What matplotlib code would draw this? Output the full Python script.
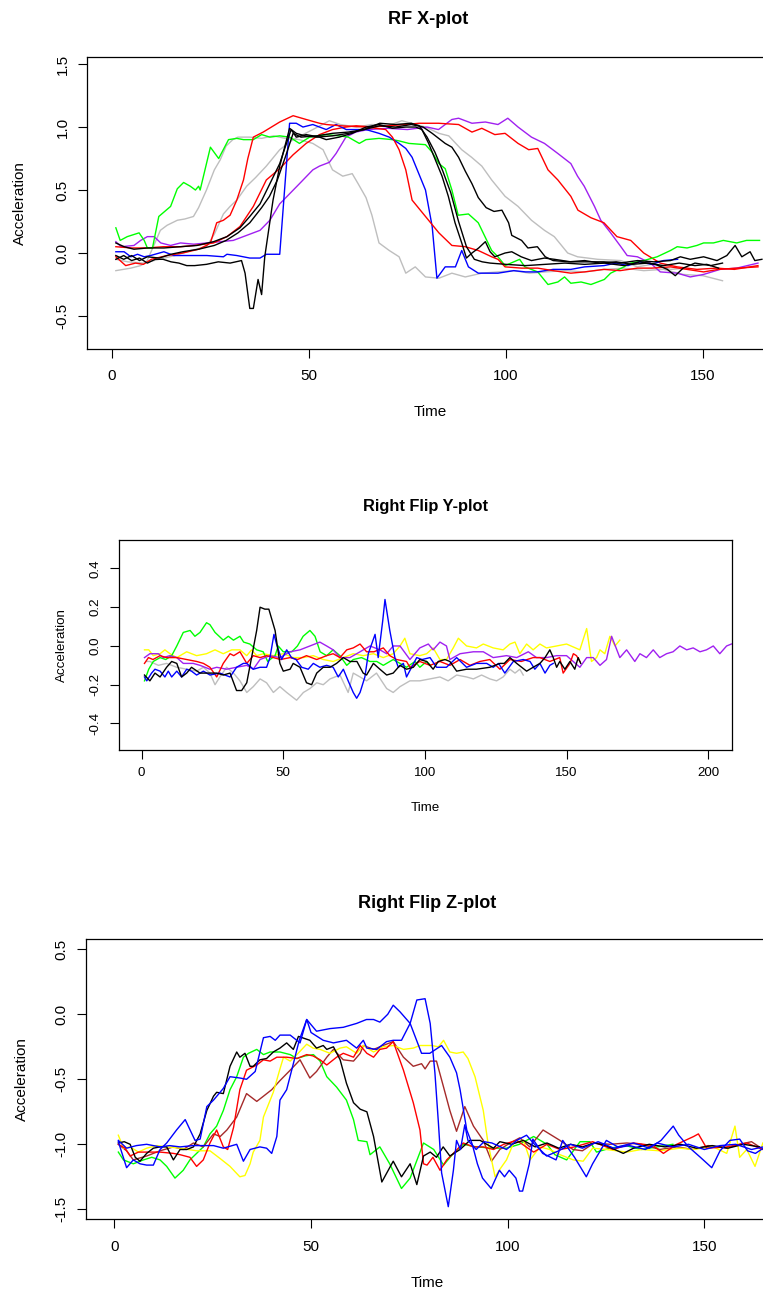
import numpy as np
import matplotlib
matplotlib.use("Agg")
import matplotlib.pyplot as plt

plt.rcParams['font.family'] = ['Liberation Sans', 'DejaVu Sans']

# ---------------- RF X-plot (time, acceleration) ----------------
x_green = [(1,0.2),(2.1,0.1),(3.9,0.13),(6.9,0.16),(8.2,0.1),(9,0.04),(10.3,0.04),(11.9,0.29),(14.9,0.37),(16.6,0.51),(18.2,0.56),(19.9,0.53),(21.2,0.5),(22,0.53),(22.4,0.5),(25,0.84),(27.1,0.75),(29.6,0.9),(31.7,0.91),(33.4,0.9),(35.9,0.9),(38,0.94),(40.1,0.92),(42.6,0.93),(45.1,0.92),(47.6,0.87),(50.2,0.92),(54.4,0.94),(57.7,0.93),(60,0.92),(62.8,0.87),(64.5,0.9),(67.8,0.91),(71.2,0.9),(72.9,0.89),(75.4,0.87),(79.6,0.86),(81.3,0.8),(83,0.71),(84.6,0.67),(86.3,0.5),(87.9,0.3),(90.5,0.31),(93,0.24),(96.4,0.02),(98,-0.03),(99.8,-0.1),(103.5,-0.05),(104.8,-0.11),(108.1,-0.15),(110.7,-0.25),(113.2,-0.23),(114.9,-0.19),(116.5,-0.24),(119.1,-0.23),(121.6,-0.25),(125,-0.21),(126.6,-0.16),(130,-0.11),(131.7,-0.08),(135,-0.06),(138.4,-0.03),(141.8,0.02),(143.5,0.05),(146,0.04),(148.5,0.06),(150.2,0.08),(152.7,0.08),(155.2,0.1),(158.6,0.08),(161.1,0.1),(164.4,0.1)]
x_grey_a = [(1,-0.14),(4.8,-0.12),(7.3,-0.1),(8.8,-0.07),(10.5,0.05),(12.3,0.18),(14,0.22),(16.6,0.26),(18.5,0.27),(20.7,0.29),(22,0.36),(24,0.5),(26,0.66),(27.5,0.74),(29,0.85),(30.7,0.9),(32,0.92),(35,0.92),(38,0.91),(41,0.93),(44,0.91),(47.6,0.9),(51,0.87),(53.6,0.82),(56,0.66),(58.6,0.61),(61,0.63),(62.5,0.55),(64.5,0.44),(66,0.3),(67.8,0.08),(70.4,0.02),(72.9,-0.03),(74.6,-0.16),(77,-0.11),(79.6,-0.19),(83,-0.2),(86.3,-0.16),(89.7,-0.19),(93.9,-0.16),(98,-0.15),(102,-0.14),(106,-0.16),(110,-0.15),(115,-0.14),(120,-0.15),(125,-0.13),(130,-0.12),(135,-0.14),(140,-0.13),(145,-0.17),(150,-0.18),(155,-0.22)]
x_grey_b = [(1,-0.05),(4,-0.07),(8,-0.08),(12,-0.05),(16,-0.02),(20,0.02),(24,0.05),(26,0.15),(28.3,0.31),(30,0.37),(31.7,0.42),(34.2,0.53),(36.5,0.6),(39.2,0.69),(42.6,0.82),(46,0.9),(51,0.98),(55.2,1.05),(58,1.02),(62,1.0),(66,1.02),(70,1.01),(73.6,1.05),(76,1.03),(79.6,1.0),(83,0.95),(85.5,0.93),(88.8,0.82),(91.3,0.76),(93.9,0.69),(96.4,0.58),(99.8,0.45),(103.1,0.37),(106.5,0.26),(109.8,0.18),(112.3,0.13),(115.7,0.0),(118.2,-0.03),(123.3,-0.05),(129.2,-0.06),(133.4,-0.11),(137,-0.09),(141.8,-0.13),(146,-0.12)]
x_red_a = [(1,-0.03),(3.5,-0.1),(6,-0.08),(8,-0.09),(10,-0.05),(14,-0.02),(18,0.0),(22,0.03),(24,0.06),(25,0.08),(26.6,0.24),(28.3,0.26),(30,0.3),(31.7,0.42),(33.4,0.58),(34.5,0.75),(35.9,0.92),(38.4,0.96),(40.5,1.0),(42.6,1.04),(46,1.09),(49.3,1.06),(52.7,1.03),(54.4,1.02),(58,1.01),(64.5,1.0),(69.5,0.98),(71.2,0.92),(72.9,0.82),(74.6,0.66),(76.2,0.42),(79.6,0.29),(83,0.16),(86.3,0.06),(89.7,0.05),(93,0.02),(96.4,-0.03),(98,-0.05),(99.8,-0.11),(104,-0.12),(108.1,-0.12),(112,-0.14),(116.5,-0.16),(120,-0.15),(124.9,-0.13),(129,-0.14),(133.4,-0.12),(137,-0.12),(141.8,-0.11),(146,-0.13),(150.2,-0.15),(154,-0.13),(158.6,-0.12),(164,-0.11)]
x_red_b = [(1,0.05),(5,0.04),(9,0.04),(13,0.05),(17.4,0.05),(21,0.06),(25.8,0.08),(29.2,0.13),(32.5,0.21),(35.9,0.37),(39.2,0.58),(42.6,0.67),(46,0.78),(49.3,0.87),(52.7,0.94),(56,0.98),(59.4,1.0),(62,1.01),(66.1,1.0),(70,1.01),(74.5,1.02),(78,1.03),(82.9,1.03),(88,1.02),(91.4,0.96),(93.9,0.99),(97.2,0.94),(99.8,0.95),(103.1,0.87),(105.8,0.82),(108.1,0.83),(110.7,0.66),(113.2,0.58),(116.5,0.45),(118.3,0.34),(121.6,0.28),(124.9,0.24),(128.2,0.13),(131.7,0.1),(135,0.0),(139.2,-0.08),(143.5,-0.11),(148.5,-0.13),(153.5,-0.12),(158,-0.13),(164,-0.1)]
x_blue = [(1,0.01),(3.1,0.01),(4.8,-0.03),(6.5,-0.01),(8.2,-0.03),(9.8,-0.02),(13.2,0.01),(15.7,-0.02),(19.9,-0.02),(24.1,-0.02),(28.3,-0.03),(29.2,-0.01),(31.7,-0.02),(35,-0.04),(37.6,-0.04),(39.2,-0.01),(42.6,-0.01),(45.1,1.03),(46.8,1.03),(48.5,1.0),(51,1.02),(54.4,0.98),(56.9,1.02),(59.5,0.98),(64.5,0.98),(67.8,0.95),(70.4,0.92),(72.9,0.87),(74.6,0.83),(76.2,0.76),(77.9,0.63),(79.6,0.5),(81.3,0.21),(82.5,-0.2),(84.6,-0.11),(87.2,-0.11),(88.8,0.02),(90.5,-0.11),(93,-0.16),(98,-0.16),(102,-0.14),(105,-0.15),(108,-0.15),(112,-0.13),(116.5,-0.13),(120,-0.11),(124.9,-0.1),(128,-0.08),(131,-0.1),(134,-0.07),(137,-0.09),(140,-0.06),(143.6,-0.05)]
x_black_a = [(1,-0.05),(3,-0.02),(5,-0.06),(7,-0.04),(9,-0.08),(11,-0.05),(13,-0.05),(15,-0.07),(17,-0.08),(19,-0.1),(21,-0.1),(24,-0.09),(27,-0.07),(30,-0.08),(32.9,-0.06),(33.8,-0.16),(35,-0.44),(35.9,-0.44),(37.1,-0.21),(38,-0.33),(38.8,-0.03),(40.9,0.42),(42.6,0.69),(45.1,0.99),(46.8,0.95),(49,0.93),(52,0.92),(56,0.93),(60,0.95),(64,0.98),(68,1.03),(72,1.02),(76,1.03),(78,1.01),(80,0.92),(82,0.8),(84,0.65),(86,0.48),(88,0.25),(90,0.05),(92,-0.05),(94,-0.07),(96,-0.08),(100,-0.09),(105,-0.1),(110,-0.09),(115,-0.08),(120,-0.09),(125,-0.08),(130,-0.1),(134,-0.07),(138,-0.09),(141,-0.13),(143,-0.18),(145,-0.12),(148,-0.08),(152,-0.1),(155,-0.08)]
x_black_b = [(1,0.08),(3.1,0.05),(5.6,0.03),(9,0.04),(13.2,0.04),(17.4,0.05),(21.6,0.06),(25.8,0.09),(29.2,0.13),(32.5,0.2),(35,0.29),(37.6,0.39),(40.1,0.55),(42.6,0.71),(44.3,0.87),(45.5,0.98),(46.8,0.92),(49.3,0.94),(52.7,0.92),(54.4,0.9),(57.7,0.92),(61,0.95),(64.5,1.0),(67.8,1.02),(71.2,0.99),(74.6,1.0),(77.1,1.0),(78.7,0.98),(80.4,0.87),(82.1,0.74),(83.8,0.61),(85.4,0.45),(87.1,0.24),(88.8,0.08),(90,-0.04),(91.4,0.0),(93.1,0.04),(94.8,0.09),(96,0.01),(97.2,-0.03),(99.8,0.0),(101.5,0.01),(103.9,-0.03),(106.5,-0.06),(109.8,-0.04),(112.3,-0.05),(116.5,-0.07),(120.8,-0.07),(124.9,-0.07),(129,-0.08),(133.4,-0.06),(137.6,-0.07),(141.8,-0.06),(144.3,-0.03),(146.8,-0.05),(150.2,-0.03),(153.6,-0.06),(156.1,-0.02),(158.2,0.06),(159.9,-0.03),(162,0.01),(163.2,-0.06),(165,-0.05)]
x_black_c = [(1,-0.02),(3,-0.05),(5,-0.02),(7,-0.06),(9,-0.03),(12,-0.04),(15,-0.01),(18,0.01),(22,0.03),(26,0.06),(29,0.1),(32,0.16),(35,0.24),(38,0.36),(40,0.45),(42,0.58),(44,0.76),(46,0.95),(48,0.92),(52,0.93),(56,0.95),(60,0.96),(64,0.98),(68,1.01),(72,1.0),(76,1.02),(79,1.0),(81.3,0.95),(84.6,0.87),(86.3,0.84),(88,0.76),(89.7,0.65),(91.4,0.55),(93,0.44),(95,0.36),(97,0.33),(99,0.34),(100.7,0.24),(101.5,0.14),(104,0.1),(105.6,0.04),(108,0.05),(110,-0.03),(112,-0.06),(116,-0.07),(120,-0.06),(124,-0.08),(128,-0.07),(132,-0.09),(136,-0.08),(140,-0.1),(144,-0.08),(148,-0.1),(151,-0.09),(154,-0.12)]
x_purple = [(1,0.09),(2.3,0.05),(5.6,0.06),(7.3,0.1),(9,0.13),(10.7,0.13),(12.4,0.08),(14.9,0.06),(17.4,0.08),(20.8,0.07),(24.1,0.08),(27.5,0.09),(30.8,0.1),(34.2,0.14),(37.6,0.18),(40.1,0.26),(42.6,0.39),(45.1,0.47),(47.6,0.55),(51,0.66),(52.7,0.69),(55.2,0.72),(56.9,0.79),(59.4,0.92),(61.9,0.96),(65,0.98),(70,0.99),(75,0.98),(80,1.0),(82.9,0.98),(86.3,1.06),(88,1.07),(91.4,1.03),(94.8,1.04),(98,1.02),(100.5,1.07),(103.1,1.0),(106.5,0.92),(109.8,0.87),(113.2,0.79),(116.5,0.71),(118.2,0.61),(119.9,0.53),(122.5,0.37),(124.1,0.26),(126.6,0.16),(129.2,0.05),(130.8,-0.02),(133.4,-0.03),(136.7,-0.08),(139.2,-0.15),(143.5,-0.16),(146.8,-0.19),(150.2,-0.17),(154.4,-0.13),(158.6,-0.12),(164,-0.08)]

# ---------------- Right Flip Y-plot ----------------
y_grey = [(1.8,-0.08),(2.9,-0.08),(5.9,-0.1),(8.8,-0.09),(12.4,-0.11),(15.9,-0.12),(19.4,-0.13),(21.8,-0.11),(24.1,-0.14),(25.9,-0.2),(27.6,-0.16),(30,-0.11),(32.4,-0.14),(34.7,-0.18),(37.1,-0.24),(39.4,-0.21),(41.8,-0.17),(44.1,-0.19),(46.5,-0.24),(48.8,-0.21),(51.2,-0.24),(54.7,-0.28),(57.1,-0.24),(59.4,-0.22),(61.8,-0.19),(64.1,-0.2),(66.5,-0.17),(70,-0.15),(72.9,-0.24),(74.7,-0.14),(77.1,-0.16),(79.4,-0.18),(82.9,-0.14),(86.5,-0.22),(88.8,-0.24),(91.2,-0.21),(94.7,-0.18),(98.2,-0.18),(101.8,-0.17),(105.3,-0.16),(108.2,-0.18),(111.2,-0.15),(114.7,-0.16),(117.1,-0.17),(120,-0.15),(122.9,-0.17),(125.3,-0.18),(127.6,-0.16),(130,-0.12),(131.8,-0.14),(133.5,-0.12),(134.7,-0.15)]
y_green = [(1,-0.18),(2.5,-0.12),(4.1,-0.08),(6.5,-0.06),(8.5,-0.07),(10.6,-0.05),(12.4,0.0),(14.7,0.07),(17.1,0.08),(18.8,0.05),(20.6,0.07),(22.9,0.12),(24.1,0.11),(25.9,0.07),(28.8,0.03),(30.6,0.05),(32.4,0.03),(34.7,0.05),(36,0.02),(38.2,0.01),(40.6,-0.02),(42.9,-0.03),(44.5,-0.08),(47.1,-0.05),(48.2,0.0),(50,-0.03),(53,-0.03),(55,0.0),(57,0.05),(59.4,0.08),(61.2,0.05),(63,-0.03),(65.3,-0.05),(67.6,-0.02),(70,-0.05),(72.4,-0.1),(74.7,-0.07),(77.6,-0.06),(80.6,-0.08),(83,-0.08),(85.3,-0.1),(88.8,-0.07),(91.2,-0.09),(93.5,-0.11),(96.5,-0.08),(98.2,-0.11),(100.6,-0.08),(102,-0.1)]
y_yellow = [(1,-0.02),(2.5,-0.02),(4.1,-0.05),(6.5,-0.04),(8.2,-0.02),(10,-0.04),(12.4,-0.06),(15.9,-0.03),(19.4,-0.05),(22.9,-0.04),(25.9,-0.02),(28.8,-0.04),(31.8,-0.02),(34.7,-0.02),(37.1,-0.05),(38.8,-0.02),(40.6,-0.05),(43,-0.04),(46.5,-0.05),(50,-0.04),(53.5,-0.06),(57.1,-0.06),(60.6,-0.05),(64.1,-0.07),(67.6,-0.08),(71.2,-0.06),(74.7,-0.04),(78.2,-0.05),(81.8,-0.04),(85.3,-0.06),(88.8,-0.04),(91.2,0.0),(92.9,0.04),(94.7,-0.04),(98.2,-0.05),(100.6,-0.04),(102.9,-0.01),(105.3,-0.07),(107.6,-0.07),(110,-0.01),(111.8,0.04),(114.7,0.0),(118.2,-0.01),(120.6,0.01),(124.1,-0.01),(127.6,-0.02),(130,0.01),(131.8,0.02),(133.5,-0.04),(135.9,0.01),(138.2,-0.02),(140.6,0.01),(142.9,-0.01),(146.5,0.0),(150,0.01),(154.7,-0.02),(157.1,0.09),(158.8,-0.08),(160.6,-0.06),(161.8,-0.02),(163.5,-0.04),(165.3,0.05),(167.1,0.0),(168.8,0.03)]
y_purple = [(1,-0.06),(2.9,-0.04),(5.9,-0.04),(7.6,-0.06),(10,-0.05),(12.4,-0.06),(14.7,-0.09),(18.2,-0.09),(20.6,-0.1),(24.1,-0.12),(26.5,-0.11),(30,-0.12),(33.5,-0.11),(37.1,-0.1),(39.4,-0.12),(41.8,-0.07),(45.3,-0.05),(48.8,-0.06),(52.4,-0.03),(55.9,-0.02),(59.4,0.0),(62.9,0.02),(65.3,0.0),(67.6,-0.02),(70,-0.06),(73.5,-0.06),(77.1,-0.03),(80.6,0.0),(84.1,-0.02),(86.5,-0.04),(88.8,0.0),(91.2,0.0),(94.7,-0.07),(98.2,-0.01),(101.2,0.01),(102.9,-0.02),(105.3,0.02),(107.6,0.0),(108.8,-0.07),(112.4,-0.04),(117.1,-0.03),(120.6,-0.03),(124.1,-0.06),(128.8,-0.05),(132.4,-0.06),(136.5,-0.03),(139.4,-0.06),(142.9,-0.06),(146.5,-0.05),(150,-0.05),(154.7,-0.11),(157.1,-0.06),(159.4,-0.06),(161.8,-0.1),(164.1,-0.07),(165.9,0.05),(168.8,-0.06),(171.2,-0.02),(174.1,-0.08),(175.9,-0.04),(178.2,-0.06),(180.6,-0.02),(182.9,-0.06),(185.3,-0.04),(187.6,-0.03),(190,0.0),(192.4,-0.02),(194.7,-0.01),(197.1,-0.03),(199.4,-0.02),(201.8,0.0),(204.1,-0.04),(206.5,0.0),(208.2,0.01)]
y_red = [(1,-0.09),(2.4,-0.06),(4,-0.07),(6.5,-0.05),(8.8,-0.06),(12.4,-0.06),(15.9,-0.07),(19.4,-0.08),(21.8,-0.09),(24.1,-0.11),(26.5,-0.16),(28.8,-0.09),(31.2,-0.04),(32.5,-0.05),(34.7,-0.03),(37.1,-0.09),(39.4,-0.05),(41.8,-0.06),(44.1,-0.05),(46.5,-0.06),(49,-0.07),(52.4,-0.06),(55,-0.07),(58.2,-0.05),(61.8,-0.07),(65.3,-0.05),(67.6,-0.04),(70,-0.06),(72.4,-0.02),(74.7,-0.01),(77.1,0.01),(79.4,-0.03),(82,-0.03),(85.3,-0.01),(87.6,-0.05),(90,-0.07),(93.5,-0.08),(94.7,-0.11),(98.2,-0.08),(101.8,-0.1),(105.3,-0.08),(108.8,-0.1),(112.4,-0.07),(115.9,-0.1),(119.4,-0.08),(122.9,-0.07),(126.5,-0.12),(130,-0.07),(134,-0.08),(138.2,-0.06),(140.6,-0.06),(144.1,-0.08),(147.6,-0.06),(148.8,-0.14),(151.2,-0.09),(152.4,-0.04),(153.5,-0.05),(154.7,-0.08)]
y_black = [(1,-0.15),(2.9,-0.18),(4.7,-0.14),(6.5,-0.16),(8.8,-0.11),(10.6,-0.08),(12.4,-0.09),(14.1,-0.16),(15.9,-0.14),(17.6,-0.11),(20.6,-0.14),(24.1,-0.14),(26.5,-0.14),(28.8,-0.15),(31.2,-0.14),(33.5,-0.23),(35.3,-0.23),(37.1,-0.19),(38.8,-0.06),(40.6,0.08),(41.8,0.2),(43.5,0.19),(44.9,0.19),(47.1,0.08),(48.8,-0.09),(50,-0.13),(52.4,-0.12),(53.5,-0.09),(55.9,-0.11),(58.2,-0.19),(60,-0.2),(61.8,-0.14),(64.1,-0.11),(66.5,-0.11),(68.8,-0.09),(71.2,-0.06),(73.5,-0.08),(76,-0.08),(78.2,-0.14),(79.4,-0.15),(81.8,-0.09),(84.1,-0.12),(86.5,-0.15),(88.8,-0.14),(91.2,-0.1),(93.5,-0.12),(95.9,-0.11),(98.2,-0.07),(100.6,-0.08),(102.9,-0.12),(104.7,-0.08),(107.1,-0.07),(108.8,-0.08),(111.2,-0.13),(114.7,-0.12),(118.2,-0.12),(122.9,-0.11),(126.5,-0.09),(128,-0.09),(130,-0.06),(132.4,-0.09),(135.9,-0.13),(138.2,-0.11),(140.6,-0.09),(142.4,-0.06),(144.1,-0.02),(145.3,-0.06),(146.5,-0.11),(147.6,-0.08),(149.4,-0.12),(151.2,-0.08),(152.9,-0.12),(154.1,-0.06),(155,-0.09)]
y_blue = [(1,-0.16),(1.8,-0.18),(3.5,-0.14),(4.7,-0.12),(6.5,-0.13),(8.2,-0.16),(9.4,-0.13),(10.6,-0.16),(12.4,-0.13),(14.1,-0.16),(15.9,-0.12),(17.6,-0.13),(19.4,-0.15),(21.8,-0.13),(24.1,-0.15),(27.6,-0.14),(31.2,-0.16),(33.5,-0.11),(35.9,-0.09),(37.1,-0.09),(39.4,-0.12),(41.8,-0.11),(44.1,-0.11),(45.3,-0.06),(46.7,0.06),(47.6,0.01),(49.4,-0.07),(51.2,-0.02),(52.9,-0.06),(54.5,-0.07),(56.5,-0.11),(58.8,-0.12),(60.6,-0.09),(62.9,-0.11),(65.3,-0.1),(67.6,-0.11),(69.4,-0.16),(71.2,-0.12),(72.9,-0.18),(74.7,-0.24),(75.9,-0.27),(77.1,-0.24),(78.8,-0.16),(80,-0.04),(81.2,0.01),(82.4,0.06),(83.5,-0.06),(85.1,0.13),(85.9,0.24),(87.6,0.08),(89.4,-0.06),(90.6,-0.11),(92.4,-0.09),(93.5,-0.16),(95.3,-0.11),(97.1,-0.06),(99,-0.07),(101.8,-0.06),(104.1,-0.11),(106,-0.11),(107.6,-0.11),(111.2,-0.06),(114.7,-0.11),(118.2,-0.09),(121.8,-0.09),(124.1,-0.11),(126,-0.09),(128.2,-0.14),(131.2,-0.08),(134.7,-0.07),(137.1,-0.08),(138.8,-0.12),(140.6,-0.09),(142.4,-0.14),(144.1,-0.1),(145.3,-0.09)]

# ---------------- Right Flip Z-plot ----------------
z_blue_a = [(1,-0.98),(3.1,-1.18),(4.8,-1.12),(6.5,-1.15),(8.2,-1.16),(9.9,-1.16),(11.6,-1.04),(13.3,-0.99),(15.8,-0.89),(18,-0.81),(20.5,-0.97),(21.8,-0.96),(23.5,-0.71),(25.2,-0.66),(27.7,-0.57),(29.4,-0.48),(31.9,-0.49),(33.6,-0.5),(35.8,-0.44),(37.9,-0.18),(39.6,-0.17),(40.9,-0.2),(42.1,-0.16),(44.7,-0.16),(47.2,-0.22),(48.9,-0.04),(51.4,-0.13),(54.8,-0.11),(58.2,-0.1),(61.6,-0.07),(64.1,-0.04),(65.9,-0.04),(67.5,-0.06),(69.5,0.0),(70.9,0.07),(72.6,0.02),(75.2,-0.07),(78.1,-0.3),(80.2,-0.3),(83.2,-0.24),(85.3,-0.33),(87,-0.45),(87.9,-0.58),(89.6,-0.89),(91,-1.0),(92.3,-1.15),(93.6,-1.26),(95.8,-1.34),(97.9,-1.2),(99.2,-1.25),(100.4,-1.2),(102.1,-1.26),(103,-1.36),(103.8,-1.36),(105.5,-1.15),(106.4,-0.96),(108.9,-1.07),(112.3,-1.12),(114,-0.97),(117,-1.1),(120,-1.25),(121.6,-1.15),(125.1,-0.97),(128,-1.02),(132,-0.99),(136,-1.03),(139,-0.97),(142.1,-0.86),(143.5,-0.93),(146,-1.02),(149,-1.1),(151.9,-1.18),(154,-1.05),(156.5,-0.97),(159,-0.96),(161,-1.05),(163,-1.07),(165,-1.03)]
z_blue_b = [(1,-0.97),(3.1,-1.03),(5.6,-1.01),(8.2,-1.0),(11.6,-1.02),(14,-1.01),(16.7,-1.02),(20,-1.01),(25.2,-1.01),(27.7,-1.03),(31.1,-1.0),(32.8,-1.13),(34.5,-1.04),(37,-1.02),(38.7,-1.03),(40,-1.07),(41.3,-0.94),(42.1,-0.66),(43.8,-0.58),(45.5,-0.38),(47,-0.2),(48.9,-0.04),(50,-0.14),(53.1,-0.2),(55.7,-0.22),(59,-0.2),(61.6,-0.26),(63.3,-0.2),(64.2,-0.26),(66.7,-0.27),(69.2,-0.21),(70.9,-0.2),(73,-0.2),(75.2,-0.07),(76.9,0.11),(79,0.12),(80.3,-0.07),(81.5,-0.45),(82.4,-0.84),(83.2,-1.22),(84.9,-1.48),(86.2,-1.2),(87,-0.97),(88,-1.04),(89.1,-0.85),(89.9,-0.97),(92,-1.04),(94,-0.98),(96,-0.99),(99.7,-1.04),(102.3,-0.97),(104.8,-0.93),(106.5,-0.99),(109.9,-1.09),(113,-1.05),(116,-1.0),(119,-1.03),(123,-0.98),(127,-1.03),(131,-1.01),(135,-1.04),(138,-0.99),(142,-1.02),(146,-1.0),(150,-1.04),(154,-1.01),(158,-1.0),(162,-1.04),(165,-1.02)]
z_black = [(1,-0.99),(2.5,-0.98),(4,-1.0),(5.3,-1.1),(6.5,-1.13),(8.2,-1.07),(9.9,-1.03),(11.6,-1.02),(13.3,-1.02),(15,-1.12),(16.7,-1.04),(18.4,-1.04),(20.1,-1.02),(21.8,-0.92),(23.5,-0.74),(25.2,-0.63),(26,-0.6),(27.7,-0.61),(29.4,-0.4),(31.1,-0.29),(31.9,-0.33),(33.2,-0.3),(34.5,-0.4),(35.3,-0.4),(37,-0.35),(38.7,-0.34),(40.4,-0.29),(42.1,-0.26),(43.8,-0.22),(45.5,-0.27),(46.8,-0.17),(49.7,-0.2),(51.4,-0.26),(53.1,-0.24),(54,-0.27),(55.7,-0.25),(57.4,-0.35),(59,-0.53),(60.8,-0.68),(62.5,-0.73),(64.2,-0.75),(65.9,-0.94),(68,-1.29),(70.9,-1.13),(73,-1.25),(75.2,-1.15),(76.9,-1.31),(78.6,-1.09),(80.3,-1.06),(81.9,-1.1),(83.6,-1.02),(85.3,-1.09),(87.9,-1.04),(90.4,-0.97),(93,-0.97),(96.4,-1.03),(98,-0.98),(101,-1.0),(104,-0.97),(107,-1.02),(110,-0.99),(113,-1.03),(116,-1.0),(119,-1.02),(122,-0.99),(125,-1.01),(129.4,-1.07),(132,-1.03),(136,-1.0),(140,-1.02),(144,-1.0),(148,-1.03),(152,-1.01),(156,-1.03),(160,-1.0),(164,-1.02)]
z_green = [(1,-1.06),(2.3,-1.12),(4.8,-1.15),(7.4,-1.12),(9.5,-1.1),(11.6,-1.12),(13.3,-1.17),(15.4,-1.26),(17.5,-1.2),(19.2,-1.12),(20.9,-1.07),(22.6,-1.02),(24.3,-0.92),(26,-0.86),(27.7,-0.74),(29.4,-0.58),(31.1,-0.48),(32.8,-0.33),(34.1,-0.3),(36.2,-0.27),(37.9,-0.31),(39.6,-0.29),(42.1,-0.29),(44.7,-0.31),(46.4,-0.34),(48.5,-0.32),(50.6,-0.31),(52.3,-0.36),(54,-0.48),(56.5,-0.56),(59,-0.66),(60.8,-0.81),(62,-0.97),(64.2,-0.98),(65,-1.08),(67.5,-1.02),(70,-1.15),(73,-1.34),(75.2,-1.26),(78.6,-0.99),(81.2,-1.04),(83.7,-1.16),(86.2,-1.07),(88.7,-1.0),(92,-1.02),(96.4,-1.03),(99.7,-1.03),(103,-1.0),(106.6,-0.94),(110,-1.0),(112,-1.08),(115,-1.12),(118.4,-0.98),(120.9,-0.98),(122.6,-1.06),(126,-1.03),(130,-1.01),(134,-1.04),(138,-1.02),(142,-1.0)]
z_red = [(1,-1.0),(2.7,-1.03),(4,-1.09),(6.1,-1.06),(8.2,-1.06),(11.6,-1.06),(15,-1.07),(16.7,-1.08),(19.2,-1.1),(20.9,-1.17),(22.6,-1.12),(24.3,-0.99),(26,-0.89),(27.7,-1.02),(28.8,-1.04),(30.3,-0.87),(31.9,-0.58),(33.6,-0.43),(36.2,-0.39),(37.9,-0.35),(39.6,-0.36),(41.3,-0.33),(43.8,-0.33),(46.4,-0.34),(48.9,-0.31),(50.5,-0.32),(52.3,-0.35),(54,-0.39),(56.5,-0.33),(58.2,-0.3),(60.8,-0.33),(62.5,-0.24),(64.2,-0.3),(65.9,-0.33),(67.5,-0.27),(69.2,-0.26),(70.9,-0.21),(73.5,-0.43),(76,-0.68),(77.7,-0.89),(78.6,-1.15),(79.5,-1.16),(81,-1.1),(82.8,-1.2),(84.5,-1.12),(86.2,-1.07),(88.7,-0.99),(91.3,-1.02),(93.8,-1.02),(96.4,-1.04),(99,-1.0),(102.3,-0.97),(106.6,-1.06),(110,-1.0),(113.3,-1.04),(117,-1.02),(121.6,-0.98),(126.8,-1.04),(132,-0.99),(137,-1.01),(139.6,-1.07),(143,-1.0),(147.3,-0.94),(148.5,-0.92),(150.6,-1.03),(155.7,-1.02),(160.8,-0.99),(164.9,-1.04)]
z_brown = [(1,-1.0),(3.1,-1.05),(4.8,-1.12),(8.2,-1.09),(11.6,-1.05),(15,-1.02),(17.5,-1.04),(20.1,-0.99),(22.6,-1.02),(25.2,-0.92),(26.9,-0.94),(28.6,-0.89),(31.1,-0.79),(33.6,-0.61),(36.2,-0.67),(37.9,-0.63),(40,-0.58),(42.1,-0.51),(44.7,-0.43),(47.2,-0.35),(49.7,-0.49),(51.4,-0.44),(54,-0.33),(55.7,-0.27),(58.2,-0.35),(60.8,-0.36),(62.5,-0.3),(63.3,-0.24),(65.9,-0.27),(68.3,-0.24),(70.9,-0.21),(73.5,-0.33),(76,-0.4),(78.1,-0.38),(79,-0.42),(80.3,-0.36),(81.9,-0.36),(83.7,-0.56),(85.3,-0.74),(87,-0.9),(89.1,-0.71),(91.3,-0.86),(93.8,-0.97),(95.9,-1.13),(98,-1.04),(100.6,-0.99),(103.1,-0.95),(105.6,-1.02),(109,-0.89),(113.3,-0.97),(116.6,-1.04),(119,-1.05),(122,-0.99),(126,-1.0),(130.3,-0.99),(134,-1.0),(138.7,-1.04),(143,-1.02),(147.2,-1.04),(151,-1.01),(155.7,-1.03),(159,-1.0),(162,-0.98),(164.5,-1.03)]
z_yellow = [(1,-0.93),(2.3,-1.03),(4,-1.02),(6.1,-1.06),(8.2,-1.03),(10.8,-1.01),(13.5,-1.02),(16.7,-1.03),(20.9,-1.05),(24.3,-1.05),(26.9,-1.11),(29.4,-1.17),(31.9,-1.25),(33.2,-1.24),(34.5,-1.15),(35.3,-1.06),(37,-0.97),(37.9,-0.79),(40.4,-0.6),(42.1,-0.42),(43,-0.33),(44.7,-0.36),(46.4,-0.31),(48.9,-0.23),(50.5,-0.26),(52.3,-0.27),(54.8,-0.3),(57.4,-0.26),(59,-0.25),(61.6,-0.3),(63.3,-0.24),(65.9,-0.29),(68.3,-0.25),(70.9,-0.24),(73.5,-0.27),(76,-0.26),(77.7,-0.24),(80.7,-0.24),(82.4,-0.25),(83.7,-0.2),(85.3,-0.29),(87,-0.3),(88.7,-0.29),(89.9,-0.34),(91.7,-0.48),(93.8,-0.74),(95,-0.99),(96.8,-1.25),(98.3,-1.18),(99.7,-1.12),(101.5,-0.99),(104,-0.97),(105.7,-1.12),(108.2,-1.02),(110.7,-1.04),(113.3,-1.08),(116.7,-1.12),(119.2,-1.13),(121.6,-1.03),(125.1,-1.04),(130.3,-1.06),(134,-1.04),(138.7,-1.05),(143.8,-1.03),(147.2,-1.04),(152.3,-1.02),(155.7,-1.07),(157.8,-0.86),(159,-1.1),(160.8,-1.04),(162.9,-1.17),(164.9,-0.99)]

GREY, PURPLE, BROWN = '#BEBEBE', '#A020F0', '#A52A2A'

W, H = 763, 1292
fig = plt.figure(figsize=(W / 100, H / 100), dpi=100)


def px_axes(left, top, right, bottom):
    return fig.add_axes([left / W, 1 - bottom / H, (right - left) / W, (bottom - top) / H])


def style(ax, xticks, yticks, ylabels, fs, xpad, ypad):
    ax.set_xticks(xticks)
    ax.set_xticklabels([str(t) for t in xticks], fontsize=fs)
    ax.set_yticks(yticks)
    ax.set_yticklabels(ylabels, fontsize=fs, rotation=90, va='center')
    ax.tick_params(axis='x', direction='out', length=6.5, width=0.8, pad=xpad)
    ax.tick_params(axis='y', direction='out', length=6.5, width=0.8, pad=ypad)
    for s in ax.spines.values():
        s.set_linewidth(0.9)


def draw(ax, pts, color):
    t, v = np.array(pts).T
    ax.plot(t, v, color=color, lw=1.0)


def fig_text(x, y, s, **kw):
    fig.text(x / W, 1 - y / H, s, ha='center', va='center', **kw)


# Panel 1
ax1 = px_axes(86.7, 57, 769, 349)
for pts, c in [(x_grey_a, GREY), (x_grey_b, GREY), (x_purple, PURPLE), (x_red_b, 'red'),
               (x_green, '#00FF00'), (x_blue, 'blue'), (x_red_a, 'red'),
               (x_black_c, 'black'), (x_black_b, 'black'), (x_black_a, 'black')]:
    draw(ax1, pts, c)
ax1.set_xlim(-6.4, 166.8)
ax1.set_ylim(-0.762, 1.556)
style(ax1, [0, 50, 100, 150], [-0.5, 0, 0.5, 1.0, 1.5],
      ['-0.5', '0.0', '0.5', '1.0', '1.5'], 11, 8.2, 5.8)
fig_text(428, 20, 'RF X-plot', fontsize=13, fontweight='bold')
fig_text(430, 412, 'Time', fontsize=11)
fig_text(20, 203, 'Acceleration', fontsize=11, rotation=90)

# Panel 2
ax2 = px_axes(119, 540, 731.7, 750)
for pts, c in [(y_grey, GREY), (y_yellow, '#FFFF00'), (y_green, '#00FF00'), (y_purple, PURPLE),
               (y_red, 'red'), (y_blue, 'blue'), (y_black, 'black')]:
    draw(ax2, pts, c)
ax2.set_xlim(-8.0, 208.3)
ax2.set_ylim(-0.537, 0.547)
style(ax2, [0, 50, 100, 150, 200], [-0.4, -0.2, 0, 0.2, 0.4],
      ['-0.4', '-0.2', '0.0', '0.2', '0.4'], 9.6, 5.8, 6.3)
fig_text(425, 507, 'Right Flip Y-plot', fontsize=11.8, fontweight='bold')
fig_text(425, 808, 'Time', fontsize=9.6)
fig_text(62, 645, 'Acceleration', fontsize=9.6, rotation=90)

# Panel 3
ax3 = px_axes(85.7, 939.3, 768, 1219.3)
for pts, c in [(z_green, '#00FF00'), (z_brown, BROWN), (z_yellow, '#FFFF00'), (z_red, 'red'),
               (z_black, 'black'), (z_blue_b, 'blue'), (z_blue_a, 'blue')]:
    draw(ax3, pts, c)
ax3.set_xlim(-7.3, 166.2)
ax3.set_ylim(-1.577, 0.577)
style(ax3, [0, 50, 100, 150], [-1.5, -1.0, -0.5, 0, 0.5],
      ['-1.5', '-1.0', '-0.5', '0.0', '0.5'], 11, 8.2, 5.8)
fig_text(427, 903, 'Right Flip Z-plot', fontsize=13, fontweight='bold')
fig_text(427, 1283, 'Time', fontsize=11)
fig_text(22, 1079, 'Acceleration', fontsize=11, rotation=90)

fig.savefig('out.png', dpi=100)
